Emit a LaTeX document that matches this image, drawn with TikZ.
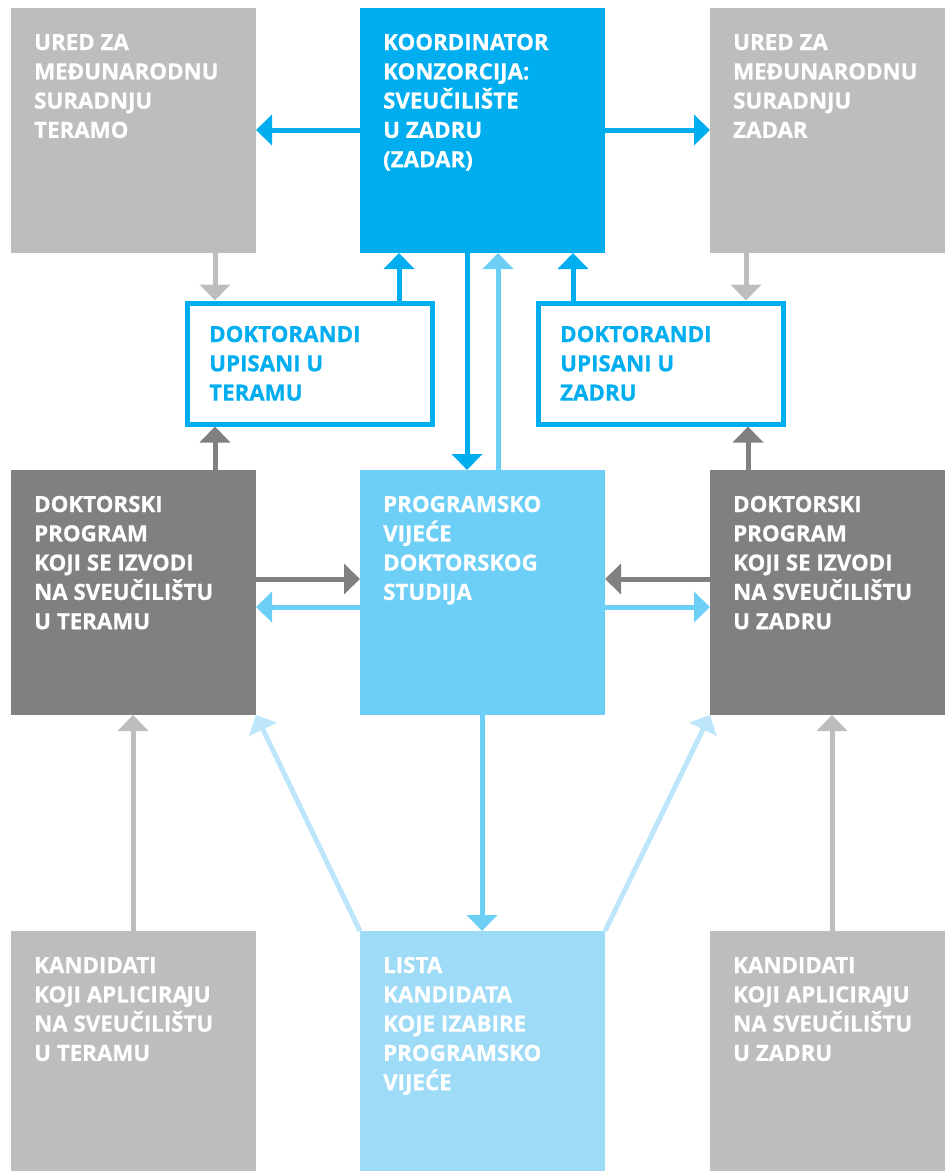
\documentclass[tikz,border=0pt]{standalone}
\usepackage{fontspec}
\setmainfont{Open Sans}[BoldFeatures={FakeBold=0.6}]
\usetikzlibrary{arrows.meta}
\definecolor{cgray}{HTML}{BDBDBD}
\definecolor{cdark}{HTML}{808080}
\definecolor{cblue}{HTML}{00AEEF}
\definecolor{clblue}{HTML}{6DCFF6}
\definecolor{cllblue}{HTML}{9EDBF7}
\definecolor{cdiag}{HTML}{BDE6FA}
\newcommand{\boxtext}[1]{\parbox[t]{225pt}{\raggedright\fontsize{22.3}{29.3}\selectfont #1}}
\begin{document}
\begin{tikzpicture}[x=1pt,y=-1pt,
  box/.style={draw=none, anchor=north west, minimum width=245pt, minimum height=245pt, inner sep=0pt, outer sep=0pt},
  wbox/.style={draw=cblue, line width=5pt, fill=white, anchor=north west, minimum width=245pt, minimum height=121pt, inner sep=0pt, outer sep=2.5pt},
  txt/.style={anchor=base west, inner sep=0pt, font=\bfseries, text=white},
  conn/.style={line width=5pt, -{Triangle[length=16pt,width=30pt]}}]
\useasboundingbox (0,0) rectangle (945,1171);
% top row
\node[box, fill=cgray] (ul) at (11,8) {};
\node[box, fill=cblue] (uc) at (360,8) {};
\node[box, fill=cgray, minimum width=235pt] (ur) at (710,8) {};
% doktorandi
\node[wbox] (dl) at (184.5,300.5) {};
\node[wbox] (dr) at (535.5,300.5) {};
% middle row
\node[box, fill=cdark] (ml) at (11,470) {};
\node[box, fill=clblue] (mc) at (360,470) {};
\node[box, fill=cdark, minimum width=235pt] (mr) at (710,470) {};
% bottom row
\node[box, fill=cgray, minimum height=240pt] (bl) at (11,931) {};
\node[box, fill=cllblue, minimum height=240pt] (bc) at (360,931) {};
\node[box, fill=cgray, minimum width=235pt, minimum height=240pt] (br) at (710,931) {};
% texts
\node[txt] (ult) at ([xshift=23pt,yshift=-42pt]ul.north west) {\boxtext{URED ZA\\MEĐUNARODNU\\SURADNJU\\TERAMO}};
\node[txt] (uct) at ([xshift=23pt,yshift=-42pt]uc.north west) {\boxtext{KOORDINATOR\\KONZORCIJA:\\SVEUČILIŠTE\\U ZADRU\\(ZADAR)}};
\node[txt] (urt) at ([xshift=23pt,yshift=-42pt]ur.north west) {\boxtext{URED ZA\\MEĐUNARODNU\\SURADNJU\\ZADAR}};
\node[txt, text=cblue] (dlt) at ([xshift=24.5pt,yshift=-41.5pt]dl.north west) {\boxtext{DOKTORANDI\\UPISANI U\\TERAMU}};
\node[txt, text=cblue] (drt) at ([xshift=24.5pt,yshift=-41.5pt]dr.north west) {\boxtext{DOKTORANDI\\UPISANI U\\ZADRU}};
\node[txt] (mlt) at ([xshift=23pt,yshift=-42pt]ml.north west) {\boxtext{DOKTORSKI\\PROGRAM\\KOJI SE IZVODI\\NA SVEUČILIŠTU\\U TERAMU}};
\node[txt] (mct) at ([xshift=23pt,yshift=-42pt]mc.north west) {\boxtext{PROGRAMSKO\\VIJEĆE\\DOKTORSKOG\\STUDIJA}};
\node[txt] (mrt) at ([xshift=23pt,yshift=-42pt]mr.north west) {\boxtext{DOKTORSKI\\PROGRAM\\KOJI SE IZVODI\\NA SVEUČILIŠTU\\U ZADRU}};
\node[txt] (blt) at ([xshift=23pt,yshift=-42pt]bl.north west) {\boxtext{KANDIDATI\\KOJI APLICIRA\kern-1.5pt JU\\NA SVEUČILIŠTU\\U TERAMU}};
\node[txt] (bct) at ([xshift=23pt,yshift=-42pt]bc.north west) {\boxtext{LISTA\\KANDIDATA\\KOJE IZABIRE\\PROGRAMSKO\\VIJEĆE}};
\node[txt] (brt) at ([xshift=23pt,yshift=-42pt]br.north west) {\boxtext{KANDIDATI\\KOJI APLICIRA\kern-1.5pt JU\\NA SVEUČILIŠTU\\U ZADRU}};
% connectors top
\draw[conn, cblue] (uc.west |- 0,130) -- (ul.east |- 0,130);
\draw[conn, cblue] (uc.east |- 0,130) -- (ur.west |- 0,130);
\draw[conn, cgray] (215,0 |- ul.south) -- (215,0 |- dl.north);
\draw[conn, cgray] (746,0 |- ur.south) -- (746,0 |- dr.north);
\draw[conn, cblue] (399,0 |- dl.north) -- (399,0 |- uc.south);
\draw[conn, cblue] (573,0 |- dr.north) -- (573,0 |- uc.south);
\draw[conn, cblue] (467,0 |- uc.south) -- (467,0 |- mc.north);
\draw[conn, clblue] (498,0 |- mc.north) -- (498,0 |- uc.south);
\draw[conn, cdark] (215,0 |- ml.north) -- (215,0 |- dl.south);
\draw[conn, cdark] (748,0 |- mr.north) -- (748,0 |- dr.south);
% connectors middle
\draw[conn, cdark] (ml.east |- 0,579) -- (mc.west |- 0,579);
\draw[conn, clblue] (mc.west |- 0,607) -- (ml.east |- 0,607);
\draw[conn, cdark] (mr.west |- 0,579) -- (mc.east |- 0,579);
\draw[conn, clblue] (mc.east |- 0,607) -- (mr.west |- 0,607);
% connectors bottom
\draw[conn, cgray] (133,0 |- bl.north) -- (133,0 |- ml.south);
\draw[conn, cgray] (832,0 |- br.north) -- (832,0 |- mr.south);
\draw[conn, clblue] (482,0 |- mc.south) -- (482,0 |- bc.north);
\draw[conn, cdiag] (bc.north west) -- (ml.south east);
\draw[conn, cdiag] (bc.north east) -- (mr.south west);
\end{tikzpicture}
\end{document}
